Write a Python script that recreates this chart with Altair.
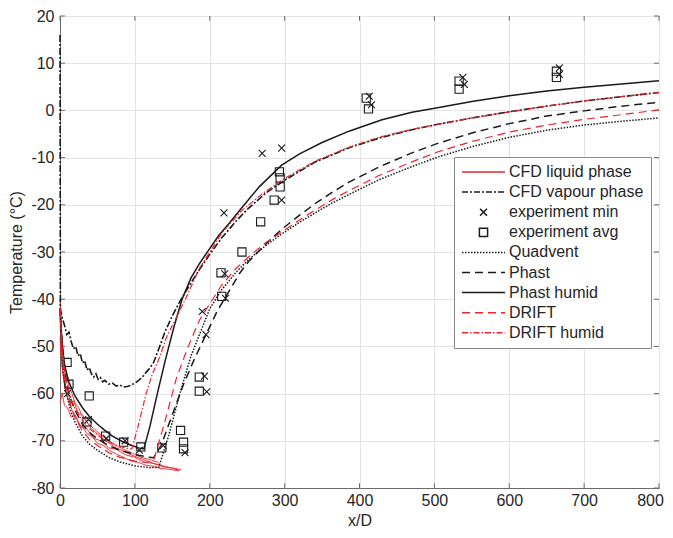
import altair as alt
import pandas as pd

# ---------------- data ----------------
series_names = ["CFD liquid phase", "CFD vapour phase", "experiment min", "experiment avg",
                "Quadvent", "Phast", "Phast humid", "DRIFT", "DRIFT humid"]

x_ticks = [0, 100, 200, 300, 400, 500, 600, 700, 800]
y_ticks = [-80, -70, -60, -50, -40, -30, -20, -10, 0, 10, 20]

# CFD liquid phase: several droplet traces in the near field
liq1_x = [0, 2, 5, 8, 12, 16, 20, 25, 30, 36, 42, 50, 58, 66, 75, 85, 95, 105, 115, 125, 135, 145, 155, 162]
liq1_T = [-40, -47, -52, -55.5, -58.5, -60, -62, -63, -65, -66, -67.5, -68.5, -69.8, -70.5, -71.5, -72.2,
          -73, -73.6, -74.2, -74.8, -75.2, -75.6, -75.9, -76.1]
liq2_x = [0, 2, 5, 8, 12, 16, 20, 25, 30, 36, 42, 50, 58, 66, 75, 85, 95, 105, 115, 125, 135, 145, 155, 160]
liq2_T = [-44, -53, -57, -60, -61.5, -63.5, -64.5, -66.5, -67, -68.5, -69, -70.5, -71, -72, -72.8, -73.5,
          -74.3, -74.6, -75.2, -75.4, -75.9, -76, -76.3, -76.3]
liq3_x = [0, 3, 6, 10, 15, 20, 28, 36, 45, 55, 65, 75, 88, 100, 112, 125, 138, 150, 158]
liq3_T = [-62, -60, -62.5, -63, -65, -64.5, -67, -67.5, -69.5, -70, -71.5, -71.8, -73, -73.5, -74.5,
          -74.8, -75.5, -75.8, -76.2]
liq4_x = [0, 3, 6, 10, 14, 18, 24, 30, 38, 46, 55, 65, 75, 85, 95, 108, 120, 132]
liq4_T = [-48, -55, -58, -59, -62, -61.5, -64, -64.5, -66.5, -67.5, -68.8, -70, -71, -71.8, -72.5,
          -73.5, -74, -74.6]

vap_x = [0, 0.5, 3, 6, 9, 12, 15, 18, 21, 24, 27, 30, 33, 36, 39, 42, 45, 48, 51, 54, 57, 60, 65, 70, 75,
         80, 85, 90, 95, 100, 105, 110, 115, 120, 125, 132, 140, 150, 160, 173, 186, 200, 216, 235, 250,
         275, 300, 340, 386, 426, 470, 506, 550, 600, 650, 700, 750, 800]
vap_T = [16, -42, -44, -45.5, -47.5, -47, -49, -50.5, -50, -52, -51.5, -53.5, -53, -55, -54.5, -55.8,
         -56.5, -55.8, -57, -56.6, -57.5, -57.2, -58, -57.8, -58.4, -58.2, -58.6, -58.5, -58.2, -57.8,
         -57.2, -56.5, -55.5, -54.6, -53.4, -50.5, -47, -43.5, -40.5, -37, -33.8, -30.5, -27, -23.5, -21,
         -17.5, -14.8, -11, -7.9, -5.9, -4.1, -2.9, -1.6, -0.3, 0.9, 2, 2.9, 3.8]

quad_x = [0, 3, 6, 10, 15, 20, 30, 40, 50, 65, 80, 100, 120, 132, 145, 160, 175, 190, 200, 216, 235,
          252, 275, 296, 320, 342, 365, 386, 426, 470, 506, 550, 600, 650, 700, 750, 800]
quad_T = [-42, -52, -57.5, -61, -64, -66, -69, -70.8, -72, -73.5, -74.5, -75.3, -75.7, -75.6, -69, -60,
          -52, -46, -42, -38, -34.3, -31.6, -28.6, -26.2, -23.7, -21.6, -19.5, -17.8, -14.7, -11.9, -9.8,
          -7.7, -5.7, -4.2, -3.1, -2.3, -1.6]

phast_x = [0, 3, 6, 10, 15, 20, 30, 40, 50, 65, 80, 100, 115, 125, 135, 150, 165, 180, 195, 210, 225,
           240, 252, 275, 296, 320, 342, 365, 386, 426, 470, 506, 550, 600, 650, 700, 750, 800]
phast_T = [-42, -50, -55, -58.5, -61.5, -63.5, -66.5, -68.3, -69.6, -71, -72, -72.9, -73.4, -73.6, -71,
           -64.5, -58, -52.5, -47.5, -42.5, -38.5, -34.5, -32, -28.3, -25.2, -22.2, -19.6, -17.2, -15.2,
           -12, -9, -6.9, -4.8, -2.8, -1.2, -0.1, 0.9, 1.7]

phum_x = [0, 3, 6, 12, 20, 30, 39, 50, 60, 70, 85, 96, 105, 112, 120, 130, 141, 152, 163, 175, 186, 199,
          212, 226, 245, 266, 296, 320, 350, 386, 430, 470, 506, 550, 600, 650, 700, 750, 800]
phum_T = [-42, -50, -54, -57.6, -60.5, -63, -64.8, -66.5, -67.8, -69, -70.3, -71, -71.5, -71.7, -67, -60,
          -52.7, -46, -40, -35.5, -32.5, -29.5, -26.5, -23.9, -20.2, -16.2, -11.6, -9.2, -6.8, -4.4, -2,
          -0.4, 0.6, 1.9, 3.1, 4.1, 4.9, 5.6, 6.3]

drift_x = [0, 3, 6, 10, 15, 20, 30, 40, 50, 65, 80, 100, 115, 125, 140, 155, 170, 186, 200, 216, 235,
           252, 275, 296, 320, 342, 365, 386, 426, 470, 506, 550, 600, 650, 700, 750, 800]
drift_T = [-42, -51, -56.5, -60, -63, -65, -68, -69.8, -71, -72.5, -73.5, -74.3, -74.6, -74.2, -66, -57,
           -50.5, -44.5, -41, -37, -33.5, -31, -28, -25.8, -23.2, -21, -18.8, -17, -13.8, -10.9, -8.7,
           -6.6, -4.6, -3.1, -1.9, -0.9, 0.1]

dhum_x = [0, 3, 6, 10, 15, 20, 30, 40, 50, 60, 70, 80, 90, 96, 105, 115, 123, 132, 143, 155, 168, 186,
          200, 216, 243, 270, 296, 340, 386, 426, 470, 506, 550, 600, 650, 700, 750, 800]
dhum_T = [-42, -50.5, -55, -58.5, -61.3, -63.2, -65.8, -67.5, -68.8, -69.8, -70.6, -71.2, -71.6, -71.7,
          -66.5, -60, -56, -52.7, -47.8, -44, -39.8, -33.5, -30, -26, -21.2, -17.7, -14.8, -10.8, -7.8,
          -5.7, -4, -2.9, -1.6, -0.3, 0.9, 2, 2.9, 3.8]

exp_min_x = [10, 38, 62, 87, 106, 138, 167, 193, 196, 190, 195, 220, 221, 219, 270, 296, 296,
             413, 416, 538, 540, 667, 667]
exp_min_T = [-60, -65.5, -69.5, -70, -72, -71, -72.5, -56.3, -59.6, -42.6, -47.5, -34.6, -39.8, -21.7,
             -9.1, -8, -19, 3, 1.2, 7, 5.5, 9.0, 7.6]
exp_avg_x = [9.5, 12, 39, 36, 61, 85, 108, 136, 161, 165, 165, 186, 186, 215, 216, 243, 268, 286, 293,
             294, 294, 409, 412, 533, 533, 663, 663]
exp_avg_T = [-53.4, -58, -60.5, -66, -69, -70.3, -71.3, -71.5, -67.8, -70.3, -71.7, -56.5, -59.5, -34.4,
             -39.4, -30, -23.6, -19, -13, -14.3, -16.2, 2.6, 0.3, 6.2, 4.5, 8.3, 7.0]

# ---------------- styles ----------------
RED = "#e8262c"
BLK = "#1a1a1a"
AX = "#6a6a6a"
FONT = "Liberation Sans"
TXT = "#262626"
CROSS = "M-0.16,-0.16L0.16,0.16M-0.16,0.16L0.16,-0.16"
SQUARE = "M-0.19,-0.19L0.19,-0.19L0.19,0.19L-0.19,0.19Z"
SYM = 1849  # sqrt -> 43 px legend line samples
MINUS = "\u2212"

line_styles = {
    "CFD liquid phase": dict(color=RED, strokeWidth=0.9),
    "CFD vapour phase": dict(color=BLK, strokeWidth=1.6, strokeDash=[7, 2, 2, 2]),
    "Quadvent": dict(color=BLK, strokeWidth=1.5, strokeDash=[1.5, 1.5]),
    "Phast": dict(color=BLK, strokeWidth=1.5, strokeDash=[8, 5]),
    "Phast humid": dict(color=BLK, strokeWidth=1.5),
    "DRIFT": dict(color=RED, strokeWidth=1.2, strokeDash=[8, 5]),
    "DRIFT humid": dict(color=RED, strokeWidth=1.2, strokeDash=[6, 2, 1.5, 2]),
}

leg_colors = [RED, BLK, BLK, BLK, BLK, BLK, BLK, RED, RED]
leg_shapes = ["stroke", "stroke", CROSS, SQUARE, "stroke", "stroke", "stroke", "stroke", "stroke"]
leg_dashes = [[1, 0], [6, 2, 2, 2], [1, 0], [1, 0], [1.5, 1.5], [8, 5], [1, 0], [8, 5], [6, 2, 1.5, 2]]

# ---------------- build frames ----------------
def frame(xs, ts, trace):
    return pd.DataFrame({"x": xs, "T": ts, "trace": trace, "idx": list(range(len(xs)))})

curves = {
    "CFD liquid phase": pd.concat([frame(liq1_x, liq1_T, "a"), frame(liq2_x, liq2_T, "b"),
                                   frame(liq3_x, liq3_T, "c"), frame(liq4_x, liq4_T, "d")]),
    "CFD vapour phase": frame(vap_x, vap_T, "a"),
    "Quadvent": frame(quad_x, quad_T, "a"),
    "Phast": frame(phast_x, phast_T, "a"),
    "Phast humid": frame(phum_x, phum_T, "a"),
    "DRIFT": frame(drift_x, drift_T, "a"),
    "DRIFT humid": frame(dhum_x, dhum_T, "a"),
}

label_expr = "replace(datum.label, '" + MINUS + "', '-')"
x_scale = alt.Scale(domain=[0, 800], nice=False, zero=False)
y_scale = alt.Scale(domain=[-80, 20], nice=False, zero=False)
x_enc = alt.X("x:Q", scale=x_scale,
              axis=alt.Axis(values=x_ticks, title="x/D", labelPadding=4, titlePadding=4,
                            labelFlush=False,
                            labelOffset={"condition": {"test": "datum.value == 800", "value": -9},
                                         "value": 0}))
y_enc = alt.Y("T:Q", scale=y_scale,
              axis=alt.Axis(values=y_ticks, title="Temperature (°C)", labelPadding=6, titlePadding=6,
                            labelFlush=False, labelExpr=label_expr))

layers = []

# inner tick marks (MATLAB style), positioned through the scales
tb = pd.DataFrame({"x": x_ticks, "T": [-80] * len(x_ticks), "T2": [-79] * len(x_ticks)})
tt = pd.DataFrame({"x": x_ticks, "T": [20] * len(x_ticks), "T2": [19] * len(x_ticks)})
tl = pd.DataFrame({"T": y_ticks, "x": [0] * len(y_ticks), "x2": [6.7] * len(y_ticks)})
tr = pd.DataFrame({"T": y_ticks, "x": [793.3] * len(y_ticks), "x2": [800] * len(y_ticks)})
for d in (tb, tt):
    layers.append(alt.Chart(d).mark_rule(color=AX, strokeWidth=1).encode(x=x_enc, y=y_enc, y2="T2:Q"))
for d in (tl, tr):
    layers.append(alt.Chart(d).mark_rule(color=AX, strokeWidth=1).encode(x=x_enc, x2="x2:Q", y=y_enc))

def line_layer(name):
    return alt.Chart(curves[name]).mark_line(**line_styles[name]).encode(
        x=x_enc, y=y_enc, detail="trace:N", order="idx:Q")

def point_layer(xs, ts, shape):
    d = pd.DataFrame({"x": xs, "T": ts})
    return alt.Chart(d).mark_point(shape=shape, size=SYM, filled=False, color=BLK,
                                   strokeWidth=1.1, opacity=1).encode(x=x_enc, y=y_enc)

layers.append(line_layer("CFD liquid phase"))
layers.append(line_layer("CFD vapour phase"))
layers.append(point_layer(exp_min_x, exp_min_T, CROSS))
layers.append(point_layer(exp_avg_x, exp_avg_T, SQUARE))
for nm in ["Quadvent", "Phast", "Phast humid", "DRIFT", "DRIFT humid"]:
    layers.append(line_layer(nm))

# legend-only layer (points lie outside the domain and are clipped)
leg_df = pd.DataFrame({"series": series_names, "x": [-100] * 9, "T": [-200] * 9})
leg = alt.Legend(title=None, orient="none", legendX=394, legendY=141)
legend_layer = alt.Chart(leg_df).mark_point(clip=True, filled=False, strokeWidth=1.5, opacity=1,
                                            size=SYM).encode(
    x=x_enc, y=y_enc,
    color=alt.Color("series:N", scale=alt.Scale(domain=series_names, range=leg_colors), legend=leg),
    shape=alt.Shape("series:N", scale=alt.Scale(domain=series_names, range=leg_shapes), legend=leg),
    strokeDash=alt.StrokeDash("series:N", scale=alt.Scale(domain=series_names, range=leg_dashes),
                              legend=leg),
)
layers.append(legend_layer)

chart = alt.layer(*layers).properties(
    width=599, height=472,
    padding={"left": 0, "top": 0, "right": 0, "bottom": 0},
    background="white",
).configure_view(
    stroke=AX, strokeWidth=1
).configure_axis(
    labelFont=FONT, labelFontSize=16, labelColor=TXT,
    titleFont=FONT, titleFontSize=16, titleColor=TXT, titleFontWeight="normal",
    gridColor="#e3e3e3", gridWidth=1, domainColor=AX, domainWidth=1,
    ticks=False, tickSize=0,
).configure_legend(
    labelFont=FONT, labelFontSize=16, labelColor=TXT, labelOffset=3,
    strokeColor="#8a8a8a", fillColor="white", padding=7, rowPadding=4.1,
    clipHeight=16, symbolSize=SYM, symbolStrokeWidth=1.5,
)

chart.save("out.html", embed_options={"renderer": "svg", "actions": False})
